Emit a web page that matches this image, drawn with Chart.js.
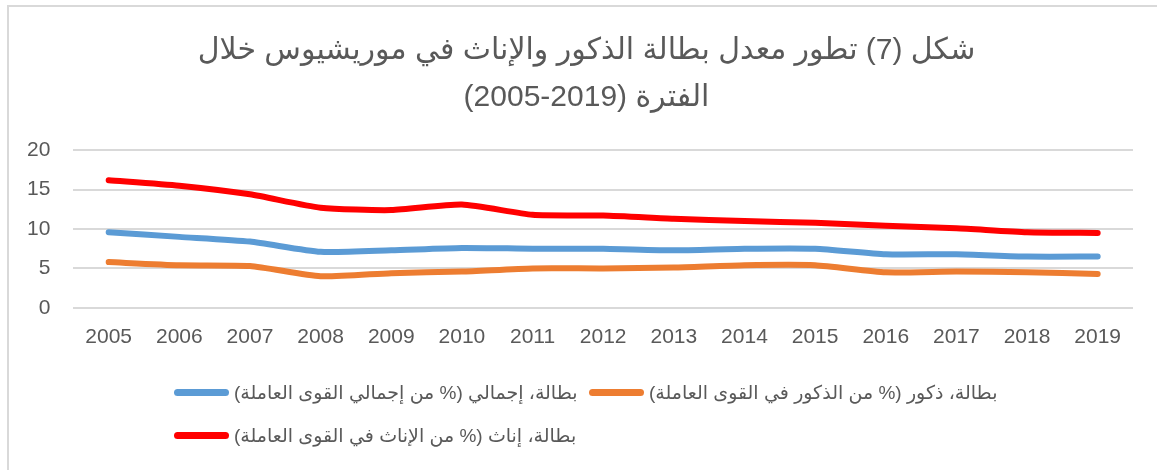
<!DOCTYPE html>
<html>
<head>
<meta charset="utf-8">
<script src="https://cdn.jsdelivr.net/npm/chart.js@4/dist/chart.umd.min.js"></script>
<style>
  html, body { margin: 0; padding: 0; background: #fff; }
  #wrap { position: relative; width: 1157px; height: 470px; overflow: hidden; }
  #frame { position: absolute; left: 7px; top: 5px; right: 0; bottom: 0;
           border-top: 2px solid #D9D9D9; border-left: 2px solid #D9D9D9; pointer-events: none; }
  #c { position: absolute; left: 0; top: 0; }
  #legend { position: absolute; left: 0; top: 0; width: 1157px; height: 470px; pointer-events: none;
            font-family: "Liberation Sans", Arial, "DejaVu Sans", sans-serif; font-size: 19px; color: #595959; }
  .item { position: absolute; display: flex; align-items: center; white-space: nowrap; height: 24px; }
  .sw { width: 55px; height: 7px; border-radius: 3.5px; margin-right: 5px; }
</style>
</head>
<body>
<div id="wrap">
  <canvas id="c" width="1157" height="470"></canvas>
  <div id="legend"></div>
  <div id="frame"></div>
</div>
<script>
const years = ["2005","2006","2007","2008","2009","2010","2011","2012","2013","2014","2015","2016","2017","2018","2019"];
const totalUnemp  = [9.6, 9.0, 8.4, 7.1, 7.3, 7.6, 7.5, 7.5, 7.3, 7.5, 7.5, 6.8, 6.8, 6.5, 6.5];
const maleUnemp   = [5.8, 5.4, 5.3, 4.0, 4.4, 4.6, 5.0, 5.0, 5.1, 5.4, 5.4, 4.5, 4.6, 4.5, 4.3];
const femaleUnemp = [16.2, 15.5, 14.4, 12.7, 12.4, 13.1, 11.8, 11.7, 11.3, 11.0, 10.8, 10.4, 10.1, 9.6, 9.5];
const yTicks = [0, 5, 10, 15, 20];
const seriesLabels = [
  "بطالة، إجمالي (% من إجمالي القوى العاملة)",
  "بطالة، ذكور (% من الذكور في القوى العاملة)",
  "بطالة، إناث (% من الإناث في القوى العاملة)"
];
// line 2 uses bidi controls so that the period reads (2005-2019) from left to right, as in the figure
const titleLines = [
  "شكل (7) تطور معدل بطالة الذكور والإناث في موريشيوس خلال",
  "\u202Bالفترة (\u20662005-2019\u2069)\u202C"
];
const colors = ["#5B9BD5", "#ED7D31", "#FF0000"];

const FONT = '"Liberation Sans", Arial, "DejaVu Sans", sans-serif';
const seriesData = [totalUnemp, maleUnemp, femaleUnemp];

// centre the title over the region right of the y-axis labels, like the original
const titleCenterPlugin = {
  id: 'titleCenter',
  afterLayout(chart) {
    if (chart.titleBlock) chart.titleBlock.left = 40;
  }
};

const chart = new Chart(document.getElementById('c'), {
  type: 'line',
  data: {
    labels: years,
    datasets: seriesData.map((d, i) => ({
      label: seriesLabels[i],
      data: d,
      borderColor: colors[i],
      backgroundColor: colors[i],
      borderWidth: 6,
      pointRadius: 0,
      tension: 0.2,
      borderCapStyle: 'round',
      borderJoinStyle: 'round',
      fill: false
    }))
  },
  plugins: [titleCenterPlugin],
  options: {
    responsive: false,
    animation: false,
    events: [],
    layout: { padding: { left: 4, right: 24, top: 0, bottom: 103 } },
    plugins: {
      legend: { display: false },
      tooltip: { enabled: false },
      title: {
        display: true,
        text: titleLines,
        color: '#595959',
        font: { family: FONT, size: 30, weight: 'normal', lineHeight: 1.57 },
        padding: { top: 27, bottom: 29 }
      }
    },
    scales: {
      x: {
        offset: true,
        grid: { display: false, drawTicks: false },
        border: { display: false },
        ticks: { color: '#595959', font: { family: FONT, size: 21 }, padding: 17, maxRotation: 0, autoSkip: false }
      },
      y: {
        min: 0, max: 20,
        afterBuildTicks: (axis) => { axis.ticks = yTicks.map(v => ({ value: v })); },
        grid: { color: '#D9D9D9', lineWidth: 2, drawTicks: false },
        border: { display: false },
        ticks: { color: '#595959', font: { family: FONT, size: 21 }, padding: 23 }
      }
    }
  }
});

// HTML legend built from the datasets
const legendPos = [
  { left: 174, top: 380 },
  { left: 589, top: 380 },
  { left: 174, top: 423 }
];
const lg = document.getElementById('legend');
chart.data.datasets.forEach((ds, i) => {
  const it = document.createElement('div');
  it.className = 'item';
  it.style.left = legendPos[i].left + 'px';
  it.style.top = legendPos[i].top + 'px';
  const sw = document.createElement('div');
  sw.className = 'sw';
  sw.style.background = ds.borderColor;
  const tx = document.createElement('span');
  tx.textContent = ds.label;
  tx.dir = 'rtl';
  it.appendChild(sw);
  it.appendChild(tx);
  lg.appendChild(it);
});
</script>
</body>
</html>
